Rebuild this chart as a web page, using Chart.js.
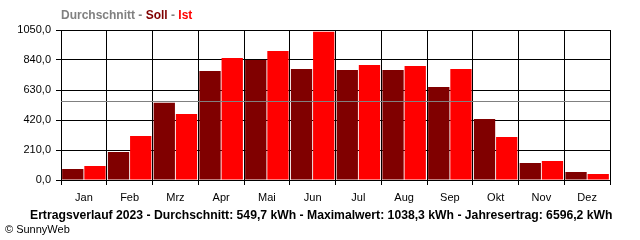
<!DOCTYPE html>
<html>
<head>
<meta charset="utf-8">
<script src="https://cdn.jsdelivr.net/npm/chart.js@4"></script>
<style>
  html, body { margin: 0; padding: 0; background: #fff; }
  #wrap { width: 640px; height: 240px; }
</style>
</head>
<body>
<div id="wrap"><canvas id="chart" width="640" height="240"></canvas></div>
<script>
// Monate und Werte (kWh)
const monate = ['Jan', 'Feb', 'Mrz', 'Apr', 'Mai', 'Jun', 'Jul', 'Aug', 'Sep', 'Okt', 'Nov', 'Dez'];
const soll = [77, 196, 541, 763, 840, 777, 770, 770, 651, 427, 119, 56];
const ist = [98, 308, 462, 854, 903, 1038.3, 805, 798, 777, 301, 133, 42];
const durchschnitt = 549.7;
const yMax = 1050;
const yStep = 210;

const titelText = 'Ertragsverlauf 2023 - Durchschnitt: 549,7 kWh - Maximalwert: 1038,3 kWh - Jahresertrag: 6596,2 kWh';
const copyText = '\u00A9 SunnyWeb';

const schrift = '"Liberation Sans", Arial, sans-serif';

// Durchschnittslinie, Legende oben und Texte unten
const extras = {
  id: 'extras',
  afterDatasetsDraw(chart) {
    const ctx = chart.ctx;
    const area = chart.chartArea;
    const y = Math.round(chart.scales.y.getPixelForValue(durchschnitt)) + 0.5;
    ctx.save();
    ctx.strokeStyle = '#808080';
    ctx.lineWidth = 1;
    ctx.beginPath();
    ctx.moveTo(area.left, y);
    ctx.lineTo(area.right, y);
    ctx.stroke();
    ctx.restore();
  },
  afterDraw(chart) {
    const ctx = chart.ctx;
    ctx.save();
    // Legende
    ctx.font = 'bold 12px ' + schrift;
    ctx.textBaseline = 'middle';
    ctx.textAlign = 'left';
    const teile = [
      ['Durchschnitt', '#808080'], [' - ', '#808080'],
      ['Soll', '#800000'], [' - ', '#808080'], ['Ist', '#ff0000']
    ];
    let x = 61;
    teile.forEach(([t, c]) => {
      ctx.fillStyle = c;
      ctx.fillText(t, x, 16);
      x += ctx.measureText(t).width;
    });
    // Titel unten
    ctx.fillStyle = '#000';
    ctx.font = 'bold 12.2px ' + schrift;
    ctx.fillText(titelText, 30, 216);
    // Copyright
    ctx.font = '11px ' + schrift;
    ctx.fillText(copyText, 5, 230);
    ctx.restore();
  }
};

new Chart(document.getElementById('chart'), {
  type: 'bar',
  data: {
    labels: monate,
    datasets: [
      {
        label: 'Soll',
        data: soll,
        backgroundColor: '#800000',
        barPercentage: 0.96,
        categoryPercentage: 0.97
      },
      {
        label: 'Ist',
        data: ist,
        backgroundColor: '#ff0000',
        barPercentage: 0.96,
        categoryPercentage: 0.97
      }
    ]
  },
  options: {
    responsive: false,
    animation: false,
    layout: { padding: { left: 0, right: 30, top: 30, bottom: 0 } },
    plugins: {
      legend: { display: false },
      tooltip: { enabled: false },
      title: { display: false }
    },
    scales: {
      x: {
        offset: true,
        grid: { offset: true, color: '#000', lineWidth: 1, tickLength: 5 },
        border: { color: '#000', width: 1 },
        ticks: { color: '#000', font: { family: schrift, size: 11 }, padding: 6, maxRotation: 0 },
        afterFit(scale) { scale.height = 60; }
      },
      y: {
        min: 0,
        max: yMax,
        grid: { color: '#000', lineWidth: 1, tickLength: 5 },
        border: { color: '#000', width: 1 },
        ticks: {
          stepSize: yStep,
          color: '#000',
          font: { family: schrift, size: 11 },
          padding: 5,
          callback: v => v.toFixed(1).replace('.', ',')
        },
        afterFit(scale) { scale.width = 61; }
      }
    }
  },
  plugins: [extras]
});
</script>
</body>
</html>
